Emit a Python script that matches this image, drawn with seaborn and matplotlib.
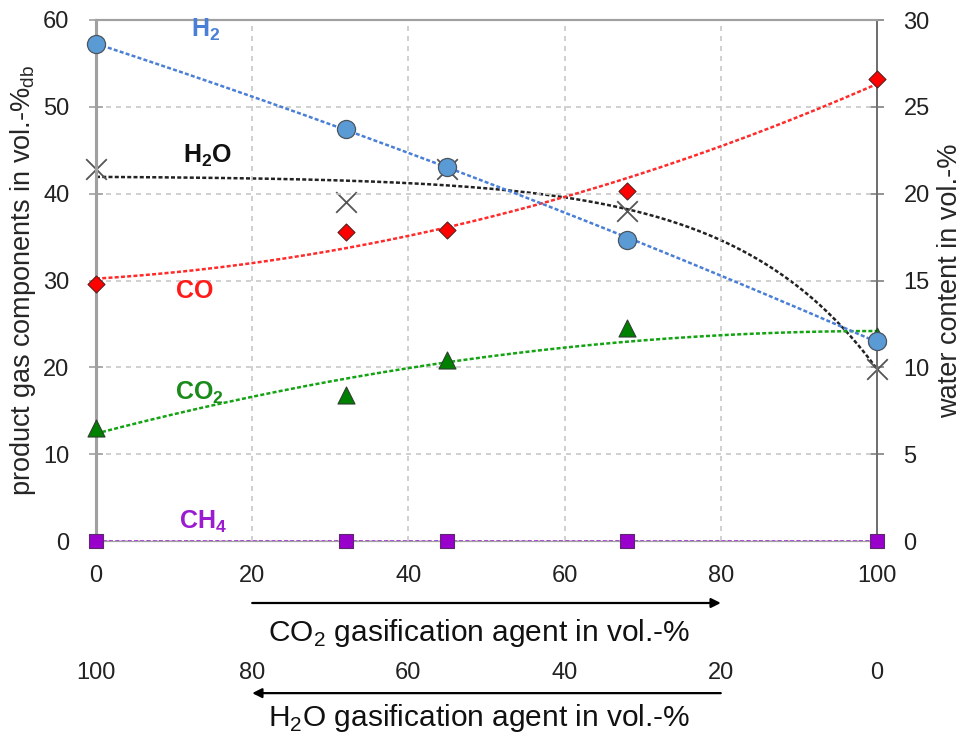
import numpy as np
import pandas as pd
import matplotlib
matplotlib.use("Agg")
import matplotlib.pyplot as plt
import seaborn as sns

# ---- data ----
co2_agent = [0, 32, 45, 68, 100]
h2 = [57.2, 47.5, 43.1, 34.7, 23.0]
co = [29.6, 35.6, 35.8, 40.3, 53.2]
co2 = [13.0, 16.8, 20.9, 24.5, 23.6]
ch4 = [0.0, 0.0, 0.0, 0.0, 0.0]
h2o = [21.4, 19.5, 21.4, 19.0, 9.9]
x_ticks = [0, 20, 40, 60, 80, 100]
left_ticks = [0, 10, 20, 30, 40, 50, 60]
right_ticks = [0, 5, 10, 15, 20, 25, 30]

sns.set_style("white")
plt.rcParams['font.family'] = ['Liberation Sans', 'DejaVu Sans']
plt.rcParams['mathtext.fontset'] = 'custom'
plt.rcParams['mathtext.rm'] = 'Liberation Sans'
plt.rcParams['mathtext.bf'] = 'Liberation Sans:bold'

fig = plt.figure(figsize=(9.73, 7.37), dpi=100)
ax = fig.add_axes([96/973, 1-541/737, (877-96)/973, (541-20)/737])
ax2 = ax.twinx()

xs = np.linspace(0, 100, 300)
x_arr = np.array(co2_agent, dtype=float)

def poly_trend(y, deg):
    c = np.polyfit(x_arr, np.array(y), deg)
    return np.polyval(c, xs)

def sat_trend(y):
    # least-squares fit of y = a - b*exp(k x)
    y = np.array(y)
    best = None
    for k in np.linspace(0.005, 0.1, 200):
        A = np.column_stack([np.ones_like(x_arr), -np.exp(k * x_arr)])
        coef, *_ = np.linalg.lstsq(A, y, rcond=None)
        err = np.sum((A @ coef - y) ** 2)
        if best is None or err < best[0]:
            best = (err, k, coef)
    _, k, (a, b) = best
    return a - b * np.exp(k * xs)

dots = (0, (1.6, 0.9))
lw = 1.8
trend = pd.DataFrame({
    "x": xs,
    "H2": poly_trend(h2, 2),
    "CO": poly_trend(co, 2),
    "CO2": poly_trend(co2, 2),
    "CH4": poly_trend(ch4, 1),
    "H2O": sat_trend(h2o),
})

sns.lineplot(data=trend, x="x", y="CH4", ax=ax, color="#9B1BD0", lw=lw, linestyle=dots)
sns.lineplot(data=trend, x="x", y="CO2", ax=ax, color="#13A313", lw=lw, linestyle=dots)
sns.lineplot(data=trend, x="x", y="CO", ax=ax, color="#FF2A2A", lw=lw, linestyle=dots)
sns.lineplot(data=trend, x="x", y="H2", ax=ax, color="#4A7FD6", lw=lw, linestyle=dots)
sns.lineplot(data=trend, x="x", y="H2O", ax=ax2, color="#222222", lw=lw, linestyle=dots)

pts = pd.DataFrame({"x": co2_agent, "H2": h2, "CO": co, "CO2": co2, "CH4": ch4, "H2O": h2o})
sns.scatterplot(data=pts, x="x", y="CH4", ax=ax, marker="s", s=110, color="#9900CC",
                edgecolor="#5A2A6A", linewidth=0.8, zorder=5, clip_on=False)
sns.scatterplot(data=pts, x="x", y="CO2", ax=ax, marker="^", s=150, color="#008000",
                edgecolor="#2F3F2F", linewidth=0.8, zorder=5, clip_on=False)
sns.scatterplot(data=pts, x="x", y="CO", ax=ax, marker="D", s=75, color="#FF0000",
                edgecolor="#5A2020", linewidth=0.8, zorder=5, clip_on=False)
sns.scatterplot(data=pts, x="x", y="H2", ax=ax, marker="o", s=170, color="#5B9BD5",
                edgecolor="#4A5560", linewidth=0.9, zorder=5, clip_on=False)
sns.scatterplot(data=pts, x="x", y="H2O", ax=ax2, marker="x", s=220, color="#555555",
                linewidth=1.3, zorder=6, clip_on=False)

ax.set_xlim(0, 100)
ax.set_ylim(0, 60)
ax2.set_ylim(0, 30)
ax.set_xticks(x_ticks)
ax.set_yticks(left_ticks)
ax2.set_yticks(right_ticks)
ax.set_xlabel("")
ax.set_ylabel("product gas components in vol.-%$_{\\mathregular{db}}$", fontsize=19.5, labelpad=4)
ax2.set_ylabel("water content in vol.-%", fontsize=19.5, labelpad=5)

TS = 17
ax.grid(True, linestyle=(0, (3, 3)), color="#C8C8C8", lw=1.2)
ax.tick_params(axis="both", labelsize=TS, colors="#222222", direction="inout",
               length=10, width=1.2)
ax.tick_params(axis="x", pad=12, color="#B0B0B0")
ax.tick_params(axis="y", color="#A0A0A0", pad=14)
ax2.tick_params(axis="y", labelsize=TS, colors="#222222", direction="inout",
                length=10, width=1.2, color="#808080", pad=14)
for lab in ax.get_yticklabels() + ax.get_xticklabels() + ax2.get_yticklabels():
    lab.set_color("#222222")

for a in (ax, ax2):
    a.spines["top"].set_color("#A0A0A0")
    a.spines["top"].set_linewidth(1.5)
    a.spines["bottom"].set_color("#A0A0A0")
    a.spines["left"].set_color("#A0A0A0")
    a.spines["left"].set_linewidth(2.2)
    a.spines["right"].set_color("#707070")
    a.spines["right"].set_linewidth(1.4)
ax.set_zorder(ax2.get_zorder() + 1)
ax.patch.set_visible(False)

# series labels
LS = 18
ax.text(14, 58.9, "H$_\\mathregular{2}$", color="#4A7FD6", fontsize=LS, fontweight="bold", ha="center", va="center")
ax.text(14.3, 44.4, "H$_\\mathregular{2}$O", color="#111111", fontsize=LS, fontweight="bold", ha="center", va="center")
ax.text(12.7, 28.8, "CO", color="#FF1A1A", fontsize=LS, fontweight="bold", ha="center", va="center")
ax.text(13.2, 17.0, "CO$_\\mathregular{2}$", color="#1A8A1A", fontsize=LS, fontweight="bold", ha="center", va="center")
ax.text(13.7, 2.2, "CH$_\\mathregular{4}$", color="#9B1BD0", fontsize=LS, fontweight="bold", ha="center", va="center")

# secondary bottom axis (H2O agent)
sec = ax.secondary_xaxis(-0.232, functions=(lambda v: 100 - v, lambda v: 100 - v))
sec.set_xticks(x_ticks)
sec.tick_params(length=0, labelsize=TS, colors="#222222", pad=0)
sec.spines["bottom"].set_visible(False)

tr = ax.get_xaxis_transform()
ax.annotate("", xy=(80, -0.119), xytext=(20, -0.119), xycoords=tr, textcoords=tr,
            arrowprops=dict(arrowstyle="-|>", color="black", lw=1.6, mutation_scale=14,
                            shrinkA=0, shrinkB=0), annotation_clip=False)
ax.text(49, -0.176, "CO$_\\mathregular{2}$ gasification agent in vol.-%", transform=tr,
        ha="center", va="center", fontsize=21.5, color="#111111")
ax.annotate("", xy=(20, -0.292), xytext=(80, -0.292), xycoords=tr, textcoords=tr,
            arrowprops=dict(arrowstyle="-|>", color="black", lw=1.6, mutation_scale=14,
                            shrinkA=0, shrinkB=0), annotation_clip=False)
ax.text(49, -0.34, "H$_\\mathregular{2}$O gasification agent in vol.-%", transform=tr,
        ha="center", va="center", fontsize=21.5, color="#111111")

fig.savefig("out.png", dpi=100)
